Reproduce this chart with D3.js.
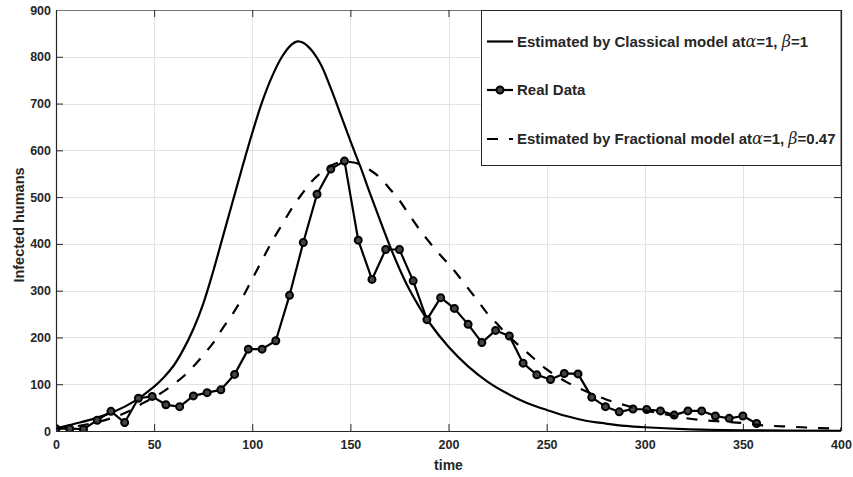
<!DOCTYPE html>
<html>
<head>
<meta charset="utf-8">
<script src="https://cdn.jsdelivr.net/npm/d3@7"></script>
<style>
html,body{margin:0;padding:0;background:#fff;}
svg{display:block;}
text{font-family:"Liberation Sans",Arial,Helvetica,sans-serif;font-weight:bold;fill:#262626;}
</style>
</head>
<body>
<svg id="chart" width="853" height="477"></svg>
<script>
// ---- data ----
const xTicks = [0,50,100,150,200,250,300,350,400];
const yTicks = [0,100,200,300,400,500,600,700,800,900];

const realT = [0,7,14,21,28,35,42,49,56,63,70,77,84,91,98,105,112,119,126,133,140,147,154,161,168,175,182,189,196,203,210,217,224,231,238,245,252,259,266,273,280,287,294,301,308,315,322,329,336,343,350,357];
const realY = [5,5,4,23,42,18,70,74,56,52,75,82,88,121,175,175,193,290,403,506,560,577,408,324,388,388,321,238,285,262,228,189,215,203,145,120,110,123,122,72,52,41,47,46,43,34,43,43,32,27,32,16];

const classT = [0,10,20,30,40,50,55,60,65,70,75,80,85,90,95,100,105,110,115,120,123,126,130,135,140,145,150,155,160,165,170,175,180,185,190,200,210,220,230,240,250,260,270,280,290,300,320,350,400];
const classY = [6,16,27,42,64,95,115,140,175,218,272,340,415,490,565,637,703,757,799,826,833,830,815,783,733,677,620,566,508,452,397,347,303,266,233,180,138,105,80,60,45,32,22,16,11,8,4,1.5,0.5];

const fracT = [0,10,20,30,40,44,50,56,60,65,70,75,80,85,90,95,100,105,110,115,120,125,130,135,140,145,150,155,160,165,170,175,180,185,190,195,200,205,210,215,220,225,230,240,250,260,270,280,290,300,310,320,330,340,350,360,370,380,390,400];
const fracY = [5,10,18,30,48,59,72,88,100,117,138,162,188,220,250,285,325,365,405,440,475,505,532,552,567,575,575,570,558,542,518,493,462,432,405,380,357,332,305,278,250,228,205,168,132,105,85,68,55,44,36,28,23,20,17,12,10,8,6,5];

const legendLabels = [
  {pre:"Estimated by Classical model at", a:"=1, ", b:"=1"},
  {pre:"Real Data"},
  {pre:"Estimated by Fractional model at", a:"=1, ", b:"=0.47"}
];

// ---- layout ----
const svg = d3.select("#chart");
const L = 56, R = 841, T = 10, B = 431;
const x = d3.scaleLinear().domain([0,400]).range([L,R]);
const y = d3.scaleLinear().domain([0,900]).range([B,T]);
const axisColor = "#262626";

// grid
const g = svg.append("g");
g.selectAll(".vg").data(xTicks.slice(1,-1)).enter().append("line")
  .attr("x1",d=>Math.round(x(d))+0.5).attr("x2",d=>Math.round(x(d))+0.5)
  .attr("y1",T).attr("y2",B).attr("stroke","#e3e3e3").attr("stroke-width",1);
g.selectAll(".hg").data(yTicks.slice(1,-1)).enter().append("line")
  .attr("y1",d=>Math.round(y(d))+0.5).attr("y2",d=>Math.round(y(d))+0.5)
  .attr("x1",L).attr("x2",R).attr("stroke","#e3e3e3").attr("stroke-width",1);

// axes
const xAxis = d3.axisBottom(x).tickValues(xTicks).tickSize(-7).tickPadding(9).tickFormat(d3.format("d"));
const yAxis = d3.axisLeft(y).tickValues(yTicks).tickSize(-7).tickPadding(5).tickFormat(d3.format("d"));
const xAxisTop = d3.axisTop(x).tickValues(xTicks).tickSize(-7).tickFormat("");
const yAxisRight = d3.axisRight(y).tickValues(yTicks).tickSize(-7).tickFormat("");

function styleAxis(sel){
  sel.select(".domain").attr("stroke",axisColor).attr("stroke-width",1.2);
  sel.selectAll(".tick line").attr("stroke",axisColor).attr("stroke-width",1);
  sel.selectAll(".tick text").attr("fill",axisColor).style("font-size","12.5px").style("font-weight","bold")
     .style("font-family","'Liberation Sans',Arial,sans-serif");
}
svg.append("g").attr("transform",`translate(0,${B})`).call(xAxis).call(styleAxis).call(s=>s.select(".domain").attr("d",`M${L},0.5H${R}`));
svg.append("g").attr("transform",`translate(${L},0)`).call(yAxis).call(styleAxis).call(s=>s.select(".domain").attr("d",`M0.5,${B}V${T}`));
svg.append("g").attr("transform",`translate(0,${T})`).call(xAxisTop).call(styleAxis).call(s=>s.select(".domain").attr("d",`M${L},0.5H${R}`).attr("stroke","#777"));
svg.append("g").attr("transform",`translate(${R},0)`).call(yAxisRight).call(styleAxis).call(s=>s.select(".domain").attr("d",`M0.5,${B}V${T}`));

// axis labels
svg.append("text").attr("x",(L+R)/2).attr("y",470).attr("text-anchor","middle")
  .style("font-size","14px").text("time");
svg.append("text").attr("transform",`translate(24,225) rotate(-90)`).attr("text-anchor","middle")
  .style("font-size","14.5px").text("Infected humans");

// clip
svg.append("clipPath").attr("id","clip").append("rect").attr("x",L).attr("y",T).attr("width",R-L).attr("height",B-T);
const plot = svg.append("g").attr("clip-path","url(#clip)");

const line = d3.line().x(d=>x(d[0])).y(d=>y(d[1])).curve(d3.curveCatmullRom.alpha(0.5));
const lineLin = d3.line().x(d=>x(d[0])).y(d=>y(d[1]));

plot.append("path").datum(classT.map((t,i)=>[t,classY[i]]))
  .attr("d",line).attr("fill","none").attr("stroke","#000").attr("stroke-width",2.2);
plot.append("path").datum(realT.map((t,i)=>[t,realY[i]]))
  .attr("d",lineLin).attr("fill","none").attr("stroke","#000").attr("stroke-width",2.2).attr("stroke-linejoin","round");
plot.selectAll(".mk").data(realT.map((t,i)=>[t,realY[i]])).enter().append("circle")
  .attr("cx",d=>x(d[0])).attr("cy",d=>y(d[1])).attr("r",3.5)
  .attr("fill","#444").attr("stroke","#000").attr("stroke-width",2);
plot.append("path").datum(fracT.map((t,i)=>[t,fracY[i]]))
  .attr("d",line).attr("fill","none").attr("stroke","#000").attr("stroke-width",2.2).attr("stroke-dasharray","11,11");

// legend
const lg = svg.append("g");
lg.append("rect").attr("x",481.5).attr("y",T+0.5).attr("width",R-481.5).attr("height",155)
  .attr("fill","#fff").attr("stroke",axisColor).attr("stroke-width",1);
const rowsY = [41.5,90,139];
legendLabels.forEach((lab,i)=>{
  const cy = rowsY[i];
  const ln = lg.append("line").attr("x1",487).attr("x2",513).attr("y1",cy).attr("y2",cy)
    .attr("stroke","#000").attr("stroke-width",2.2);
  if(i===2) ln.attr("stroke-dasharray","11,11");
  if(i===1) lg.append("circle").attr("cx",500).attr("cy",cy).attr("r",3.5).attr("fill","#444").attr("stroke","#000").attr("stroke-width",2);
  const t = lg.append("text").attr("x",517).attr("y",cy+5).style("font-size","15px");
  t.append("tspan").text(lab.pre);
  if(lab.a){
    t.append("tspan").style("font-family","'DejaVu Serif','Liberation Serif',serif").style("font-style","italic").style("font-weight","normal").style("font-size","16px").text("α");
    t.append("tspan").text(lab.a);
    t.append("tspan").style("font-family","'DejaVu Serif','Liberation Serif',serif").style("font-style","italic").style("font-weight","normal").style("font-size","16px").text("β");
    t.append("tspan").text(lab.b);
  }
});
</script>
</body>
</html>
